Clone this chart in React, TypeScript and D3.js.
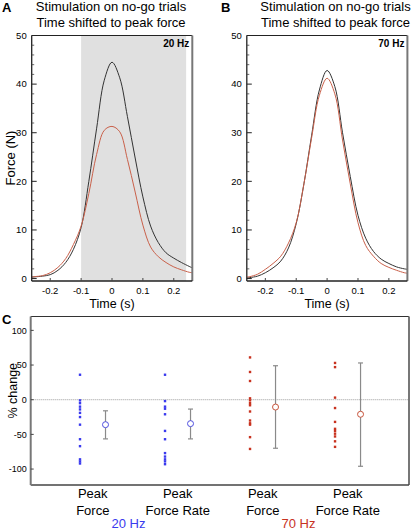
import React from "react";
import * as d3 from "d3";

// ---- Data ----
const timeS = [-0.26, -0.25, -0.225, -0.2, -0.175, -0.15, -0.125, -0.1, -0.075, -0.05, -0.025, 0,
  0.025, 0.05, 0.075, 0.1, 0.125, 0.15, 0.175, 0.2, 0.225, 0.25, 0.26];
const force20NoStim = [0.3, 0.35, 0.5, 0.8, 1.7, 3.3, 6.0, 10.5, 20, 30.8, 40.8, 44.5, 41.3, 33.3, 24.8, 16.8, 10.8, 7.4, 5.3, 4.2, 3.3, 2.5, 2.2];
const force20Stim = [0.3, 0.4, 0.6, 1.2, 2.3, 4.1, 7.0, 10.8, 17.5, 25.5, 30.5, 31.3, 30.2, 24.5, 17.8, 11, 6.5, 4.5, 3.3, 2.4, 1.8, 1.3, 1.2];
const force70NoStim = [0.1, 0.2, 0.5, 1.2, 2.2, 3.6, 6.3, 11.3, 19.5, 29.5, 38.8, 42.8, 39.5, 30, 21, 13, 8.3, 5.6, 4.0, 3.1, 2.4, 2.0, 1.9];
const force70Stim = [0.3, 0.4, 0.9, 1.9, 3.1, 4.6, 7.3, 11.5, 19.5, 29, 37.7, 41.2, 38, 28.5, 19.5, 11.5, 6.8, 4.6, 3.1, 2.3, 1.7, 1.2, 1.1];
const stimWindow20 = [-0.1, 0.24];
const xTicksA = [-0.2, -0.1, 0, 0.1, 0.2];
const yTicksA = [0, 10, 20, 30, 40, 50];

const categories = ["Peak\nForce", "Peak\nForce Rate", "Peak\nForce", "Peak\nForce Rate"];
const groupLabels = ["20 Hz", "70 Hz"];
const bluePF = [36, -1, -5, -10, -14, -19, -25, -36, -57, -67, -86, -89, -92];
const bluePFR = [36, -2, -10, -13, -21, -45, -57, -77, -82, -86, -89, -93];
const redPF = [61, 40, 27, 2, -1, -5, -8, -17, -30, -34, -36, -54, -71];
const redPFR = [53, 47, 3, -12, -32, -42, -45, -49, -53, -60, -68];
const pointSets = [bluePF, bluePFR, redPF, redPFR];
const means = [-36, -34.5, -10.6, -21];
const errLow = [-56.5, -56.5, -70, -96];
const errHigh = [-16, -13.5, 49, 53];
const yTicksC = [-100, -50, 0, 50, 100];

const FONT = "'Liberation Sans', Arial, Helvetica, sans-serif";
const BLUE = "#3a3aee";
const RED = "#c8321f";
const CURVE_RED = "#c9604a";
const CURVE_BLACK = "#333333";

function ForcePanel({ x0, x1, letter, letterX, titleX, label, noStim, stim, shade }:
  { x0: number; x1: number; letter: string; letterX: number; titleX: number; label: string; noStim: number[]; stim: number[]; shade?: number[] }) {
  const top = 35.5, bottom = 281;
  const x = d3.scaleLinear().domain([-0.26, 0.26]).range([x0, x1]);
  const y = d3.scaleLinear().domain([-0.5, 50]).range([bottom, top]);
  const line = d3.line<number>().x((_, i) => x(timeS[i])).y((d) => y(d)).curve(d3.curveCatmullRom.alpha(0.5));
  const minor = d3.range(0, 51, 2).filter((v) => v % 10 !== 0);
  const cx = (x0 + x1) / 2;
  return (
    <g>
      <text x={letterX} y={12} fontFamily={FONT} fontWeight="bold" fontSize={13}>{letter}</text>
      <text x={titleX} y={11} textAnchor="middle" fontFamily={FONT} fontSize={13}>Stimulation on no-go trials</text>
      <text x={titleX} y={27} textAnchor="middle" fontFamily={FONT} fontSize={13}>Time shifted to peak force</text>
      {shade && (
        <rect x={x(shade[0])} y={top} width={x(shade[1]) - x(shade[0])} height={bottom - top} fill="#e0e0e0" />
      )}
      <path d={line(noStim) || ""} fill="none" stroke={CURVE_BLACK} strokeWidth={1} />
      <path d={line(stim) || ""} fill="none" stroke={CURVE_RED} strokeWidth={1} />
      {/* frame */}
      <line x1={x0} x2={x1} y1={top} y2={top} stroke="#222" strokeWidth={1} />
      <line x1={x1} x2={x1} y1={top} y2={bottom} stroke="#777" strokeWidth={2} />
      <line x1={x0} x2={x1} y1={bottom} y2={bottom} stroke="#222" strokeWidth={1.3} />
      <line x1={x0} x2={x0} y1={top} y2={bottom} stroke="#222" strokeWidth={1.3} />
      {yTicksA.map((t) => (
        <g key={"y" + t}>
          <line x1={x0} x2={x0 + 5} y1={y(t)} y2={y(t)} stroke="#222" strokeWidth={1} />
          <text x={x0 - 5} y={y(t) + 3.2} textAnchor="end" fontFamily={FONT} fontSize={9.5}>{t}</text>
        </g>
      ))}
      {minor.map((t) => (
        <line key={"m" + t} x1={x0} x2={x0 + 2.5} y1={y(t)} y2={y(t)} stroke="#444" strokeWidth={0.8} />
      ))}
      {xTicksA.map((t) => (
        <g key={"x" + t}>
          <line x1={x(t)} x2={x(t)} y1={bottom} y2={bottom - 3} stroke="#444" strokeWidth={1} />
          <text x={x(t)} y={bottom + 12.5} textAnchor="middle" fontFamily={FONT} fontSize={9.5}>{t === 0 ? "0" : t.toFixed(1)}</text>
        </g>
      ))}
      <text x={x1 - 3} y={46.5} textAnchor="end" fontFamily={FONT} fontWeight="bold" fontSize={10}>{label}</text>
      <text x={cx} y={307.5} textAnchor="middle" fontFamily={FONT} fontSize={12.5}>Time (s)</text>
    </g>
  );
}

function ChangePanel() {
  const x0 = 30.7, x1 = 409, top = 316.5, bottom = 485;
  const x = d3.scaleLinear().domain([-0.58, 3.87]).range([x0, x1]);
  const y = d3.scaleLinear().domain([-123, 120]).range([bottom, top]);
  const colorOf = (i: number) => (i < 2 ? BLUE : RED);
  const meanOff = 0.3;
  return (
    <g>
      <text x={2} y={324} fontFamily={FONT} fontWeight="bold" fontSize={13}>C</text>
      <line x1={x0} x2={x1} y1={y(0)} y2={y(0)} stroke="#999" strokeWidth={1} strokeDasharray="1,1" />
      {pointSets.map((pts, i) => (
        <g key={"s" + i}>
          {pts.map((v, j) => (
            <rect key={j} x={x(i) - 1.2} y={y(v) - 1.2} width={2.4} height={2.4} fill={colorOf(i)} />
          ))}
          <line x1={x(i + meanOff)} x2={x(i + meanOff)} y1={y(errLow[i])} y2={y(errHigh[i])} stroke="#8a8a8a" strokeWidth={1.2} />
          <line x1={x(i + meanOff) - 2.5} x2={x(i + meanOff) + 2.5} y1={y(errLow[i])} y2={y(errLow[i])} stroke="#8a8a8a" strokeWidth={1.2} />
          <line x1={x(i + meanOff) - 2.5} x2={x(i + meanOff) + 2.5} y1={y(errHigh[i])} y2={y(errHigh[i])} stroke="#8a8a8a" strokeWidth={1.2} />
          <circle cx={x(i + meanOff)} cy={y(means[i])} r={3} fill="white" stroke={i < 2 ? "#5050e0" : "#c8553d"} strokeWidth={1} />
          {categories[i].split("\n").map((ln, k) => (
            <text key={k} x={x(i + 0.15)} y={498 + k * 17} textAnchor="middle" fontFamily={FONT} fontSize={13}>{ln}</text>
          ))}
        </g>
      ))}
      {groupLabels.map((g, gi) => (
        <text key={g} x={x(gi * 2 + 0.57)} y={528} textAnchor="middle" fontFamily={FONT} fontSize={13} fill={gi === 0 ? BLUE : RED}>{g}</text>
      ))}
      {/* frame */}
      <line x1={x0} x2={x1} y1={top} y2={top} stroke="#333" strokeWidth={1} />
      <line x1={x1} x2={x1} y1={top} y2={bottom} stroke="#777" strokeWidth={2} />
      <line x1={x0} x2={x1} y1={bottom} y2={bottom} stroke="#444" strokeWidth={1.3} />
      <line x1={x0} x2={x0} y1={top} y2={bottom} stroke="#777" strokeWidth={2} />
      {yTicksC.map((t) => (
        <g key={"c" + t}>
          <line x1={x0} x2={x0 + 3} y1={y(t)} y2={y(t)} stroke="#444" strokeWidth={1} />
          <text x={x0 - 4} y={y(t) + 3.2} textAnchor="end" fontFamily={FONT} fontSize={9}>{t}</text>
        </g>
      ))}
      <text transform={`translate(16.5,${(top + bottom) / 2 - 10}) rotate(-90)`} textAnchor="middle" fontFamily={FONT} fontSize={12.5}>% change</text>
    </g>
  );
}

export default function App() {
  return (
    <svg width={415} height={530} style={{ position: "absolute", left: 0, top: 0, background: "white" }}>
      <rect width={415} height={530} fill="white" />
      <ForcePanel x0={31.7} x1={192.3} letter="A" letterX={2} titleX={111} label="20 Hz"
        noStim={force20NoStim} stim={force20Stim} shade={stimWindow20} />
      <ForcePanel x0={246.8} x1={407.4} letter="B" letterX={221} titleX={335.5} label="70 Hz"
        noStim={force70NoStim} stim={force70Stim} />
      <text transform="translate(15,158) rotate(-90)" textAnchor="middle" fontFamily={FONT} fontSize={13}>Force (N)</text>
      <ChangePanel />
    </svg>
  );
}
